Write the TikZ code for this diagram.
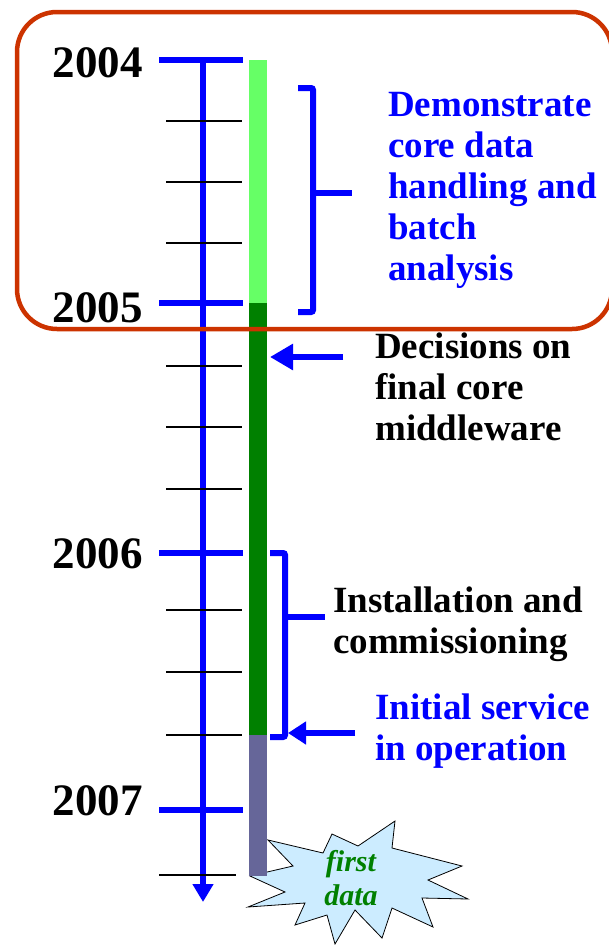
\documentclass[tikz,border=0pt]{standalone}
\usepackage{fontspec}
\setmainfont{Liberation Serif}
\usetikzlibrary{arrows.meta}
\definecolor{framered}{HTML}{CC3300}
\definecolor{lgreen}{HTML}{66FF66}
\definecolor{dgreen}{HTML}{008000}
\definecolor{slate}{HTML}{666699}
\definecolor{starfill}{HTML}{CCECFF}
\definecolor{tblue}{HTML}{0000FF}
\begin{document}
\begin{tikzpicture}[x=1pt,y=-1pt,
  yearlbl/.style={anchor=base east,inner sep=0pt,font=\fontsize{45}{50}\selectfont\bfseries},
  lbl/.style={anchor=base west,inner sep=0pt,align=left,font=\fontsize{37}{41}\selectfont\bfseries},
  yeartick/.style={draw=tblue,line width=6pt},
  minortick/.style={draw=black,line width=1.4pt},
  bluethick/.style={draw=tblue,line width=6pt},
]
\useasboundingbox (0,0) rectangle (608,945);
% star
\path[draw=black,fill=starfill,line width=0.8pt,line join=miter]
  (268,840) -- (323,853) -- (332,834) -- (358,846) -- (395,821) -- (392,848)
  -- (462,866) -- (428,880) -- (468,899) -- (422,898) -- (433,927) -- (392,908)
  -- (382,938) -- (355,910) -- (335,944) -- (327,915) -- (295,925) -- (305,903)
  -- (248,907) -- (285,892) -- (250,876) -- (293,866) -- cycle;
% bar
\fill[lgreen] (249,60) rectangle (267,303);
\fill[dgreen] (249,303) rectangle (267,735);
\fill[slate] (249,735) rectangle (267,876);
% axis
\coordinate (axtop) at (203,60);
\coordinate (axend) at (203,902);
\draw[tblue,line width=5.5pt,-{Triangle[length=18pt,width=20pt]}] (axtop) -- (axend);
% minor ticks
\foreach \y in {121,182,243,366,427,489,610,672,735}
  \draw[minortick] (166,\y) -- (242,\y);
\draw[minortick] (159,875) -- (236,875);
% year ticks
\foreach \y in {60,303,553,810}
  \draw[yeartick] (159,\y) -- (243,\y);
% year labels
\node[yearlbl] (y2004) at (143,77) {2004};
\node[yearlbl] (y2005) at (143,322) {2005};
\node[yearlbl] (y2006) at (143,568) {2006};
\node[yearlbl] (y2007) at (143,815) {2007};
% brackets
\draw[bluethick,rounded corners=2pt] (298,88) -- (313,88) -- (313,312) -- (298,312);
\draw[bluethick] (313,193) -- (352,193);
\draw[bluethick,rounded corners=2pt] (270,553) -- (285,553) -- (285,737) -- (270,737);
\draw[bluethick] (285,617) -- (325,617);
% arrows
\coordinate (decA) at (343,357);
\coordinate (decB) at (270,357);
\draw[bluethick,-{Triangle[length=23pt,width=25pt]}] (decA) -- (decB);
\coordinate (iniA) at (355,733);
\coordinate (iniB) at (288,733);
\draw[bluethick,-{Triangle[length=18pt,width=22pt]}] (iniA) -- (iniB);
% texts (base = last line)
\node[lbl,text=tblue] (demo) at (388,280) {Demonstrate\\core data\\handling and\\batch\\analysis};
\node[lbl] (dec) at (375,440) {Decisions on\\final core\\middleware};
\node[lbl] (inst) at (333,653) {Installation and\\commissioning};
\node[lbl,text=tblue] (init) at (375,760) {Initial service\\in operation};
\node[anchor=base,inner sep=0pt,align=center,text=dgreen,
  font=\fontsize{30}{34}\selectfont\bfseries\itshape] (fd) at (351,905) {first\\data};
% frame
\draw[framered,line width=4.5pt,rounded corners=40pt] (17,12) rectangle (612,329);
\end{tikzpicture}
\end{document}
